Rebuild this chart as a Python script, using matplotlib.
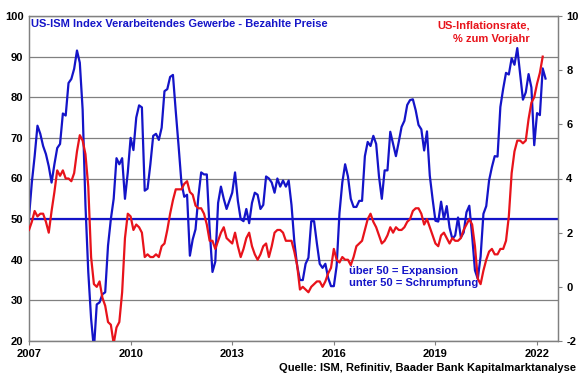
import matplotlib
matplotlib.use("Agg")
import matplotlib.pyplot as plt
import numpy as np

plt.rcParams['font.family'] = ['Liberation Sans', 'DejaVu Sans']

# ISM manufacturing prices paid, monthly from Jan 2007 to Apr 2022
ism_prices = [
    50.5, 59.0, 65.5, 73.0, 71.0, 68.0, 66.0, 63.0, 59.0, 63.5, 67.5, 68.5,   # 2007
    76.0, 75.5, 83.5, 84.5, 87.0, 91.5, 88.5, 77.0, 53.5, 37.0, 25.5, 18.0,   # 2008
    29.0, 29.5, 31.5, 32.0, 43.5, 50.0, 55.0, 65.0, 63.5, 65.0, 55.0, 61.5,   # 2009
    70.0, 67.0, 75.0, 78.0, 77.5, 57.0, 57.5, 63.5, 70.5, 71.0, 69.5, 72.5,   # 2010
    81.5, 82.0, 85.0, 85.5, 76.5, 68.0, 59.0, 55.5, 56.0, 41.0, 45.0, 47.5,   # 2011
    55.5, 61.5, 61.0, 61.0, 47.5, 37.0, 39.5, 54.0, 58.0, 55.0, 52.5, 54.5,   # 2012
    56.5, 61.5, 54.5, 50.0, 49.5, 52.5, 49.0, 54.0, 56.5, 56.0, 52.5, 53.5,   # 2013
    60.5, 60.0, 59.0, 56.5, 60.0, 58.0, 59.5, 58.0, 59.5, 53.5, 44.5, 38.5,   # 2014
    35.0, 35.0, 39.0, 40.5, 49.5, 49.5, 44.0, 39.0, 38.0, 39.0, 35.5, 33.5,   # 2015
    33.5, 38.5, 51.5, 59.0, 63.5, 60.5, 55.0, 53.0, 53.0, 54.5, 54.5, 65.5,   # 2016
    69.0, 68.0, 70.5, 68.5, 60.5, 55.0, 62.0, 62.0, 71.5, 68.5, 65.5, 69.0,   # 2017
    72.7, 74.2, 78.1, 79.3, 79.5, 76.8, 73.2, 72.1, 66.9, 71.6, 60.7, 54.9,   # 2018
    49.6, 49.4, 54.3, 50.0, 53.2, 47.9, 45.1, 46.0, 50.4, 45.5, 46.7, 51.7,   # 2019
    53.3, 45.9, 37.4, 35.3, 40.8, 51.3, 53.2, 59.5, 62.8, 65.5, 65.4, 77.6,   # 2020
    82.1, 86.0, 85.6, 89.6, 88.0, 92.1, 85.7, 79.4, 81.2, 85.7, 82.4, 68.2,   # 2021
    76.1, 75.6, 87.1, 84.6,                                                   # 2022
]

# US CPI inflation, % y/y, monthly from Jan 2007 to Mar 2022
cpi_yoy = [
    2.1, 2.4, 2.8, 2.6, 2.7, 2.7, 2.4, 2.0, 2.8, 3.5, 4.3, 4.1,   # 2007
    4.3, 4.0, 4.0, 3.9, 4.2, 5.0, 5.6, 5.4, 4.9, 3.7, 1.1, 0.1,   # 2008
    0.0, 0.2, -0.4, -0.7, -1.3, -1.4, -2.1, -1.5, -1.3, -0.2, 1.8, 2.7,  # 2009
    2.6, 2.1, 2.3, 2.2, 2.0, 1.1, 1.2, 1.1, 1.1, 1.2, 1.1, 1.5,   # 2010
    1.6, 2.1, 2.7, 3.2, 3.6, 3.6, 3.6, 3.8, 3.9, 3.5, 3.4, 3.0,   # 2011
    2.9, 2.9, 2.7, 2.3, 1.7, 1.7, 1.4, 1.7, 2.0, 2.2, 1.8, 1.7,   # 2012
    1.6, 2.0, 1.5, 1.1, 1.4, 1.8, 2.0, 1.5, 1.2, 1.0, 1.2, 1.5,   # 2013
    1.6, 1.1, 1.5, 2.0, 2.1, 2.1, 2.0, 1.7, 1.7, 1.7, 1.3, 0.8,   # 2014
    -0.1, 0.0, -0.1, -0.2, 0.0, 0.1, 0.2, 0.2, 0.0, 0.2, 0.5, 0.7,  # 2015
    1.4, 1.0, 0.9, 1.1, 1.0, 1.0, 0.8, 1.1, 1.5, 1.6, 1.7, 2.1,   # 2016
    2.5, 2.7, 2.4, 2.2, 1.9, 1.6, 1.7, 1.9, 2.2, 2.0, 2.2, 2.1,   # 2017
    2.1, 2.2, 2.4, 2.5, 2.8, 2.9, 2.9, 2.7, 2.3, 2.5, 2.2, 1.9,   # 2018
    1.6, 1.5, 1.9, 2.0, 1.8, 1.6, 1.8, 1.7, 1.7, 1.8, 2.1, 2.3,   # 2019
    2.5, 2.3, 1.5, 0.3, 0.1, 0.6, 1.0, 1.3, 1.4, 1.2, 1.2, 1.4,   # 2020
    1.4, 1.7, 2.6, 4.2, 5.0, 5.4, 5.4, 5.3, 5.4, 6.2, 6.8, 7.0,   # 2021
    7.5, 7.9, 8.5,                                                # 2022
]

start_year = 2007
x_years = [2007, 2010, 2013, 2016, 2019, 2022]
left_ticks = [20, 30, 40, 50, 60, 70, 80, 90, 100]
right_ticks = [-2, 0, 2, 4, 6, 8, 10]

BLUE = '#1414c8'
RED = '#e8131b'
GRID = '#808080'

x_ism = start_year + np.arange(len(ism_prices)) / 12.0
x_cpi = start_year + np.arange(len(cpi_yoy)) / 12.0

fig = plt.figure(figsize=(5.8, 3.75), dpi=100)
ax = fig.add_axes([29 / 580, 1 - 341 / 375, (558 - 29) / 580, (341 - 16) / 375])
ax2 = ax.twinx()

ax.set_xlim(2007, 2007 + 529 / 33.87)
ax.set_ylim(20, 100)
ax2.set_ylim(-2, 10)

ax.set_yticks(left_ticks)
ax.set_yticklabels([str(t) for t in left_ticks], fontsize=8, fontweight='bold')
ax.yaxis.grid(True, color=GRID, lw=0.9)
ax.set_axisbelow(True)
ax.tick_params(axis='y', length=0, pad=4)

ax.set_xticks(x_years)
ax.set_xticklabels([str(y) for y in x_years], fontsize=8, fontweight='bold')
ax.tick_params(axis='x', length=3, color=GRID, pad=3)

ax2.set_yticks(right_ticks)
ax2.set_yticklabels([str(t) for t in right_ticks], fontsize=8, fontweight='bold')
ax2.tick_params(axis='y', length=3, color=GRID, pad=3)

for a in (ax, ax2):
    for s in a.spines.values():
        s.set_color(GRID)
        s.set_linewidth(0.9)

ax.axhline(50, color=BLUE, lw=1.6, zorder=2)
ax.plot(x_ism, ism_prices, color=BLUE, lw=1.6, zorder=3, clip_on=True)
ax2.plot(x_cpi, cpi_yoy, color=RED, lw=1.6, zorder=3, clip_on=True)

fig.text(31 / 580, 1 - 24 / 375, 'US-ISM Index Verarbeitendes Gewerbe - Bezahlte Preise',
         color=BLUE, fontsize=8, fontweight='bold', ha='left', va='center')
fig.text(530 / 580, 1 - 25 / 375, 'US-Inflationsrate,', color=RED, fontsize=8,
         fontweight='bold', ha='right', va='center')
fig.text(530 / 580, 1 - 39 / 375, '% zum Vorjahr', color=RED, fontsize=8,
         fontweight='bold', ha='right', va='center')
fig.text(349 / 580, 1 - 271 / 375, 'über 50 = Expansion', color=BLUE, fontsize=8,
         fontweight='bold', ha='left', va='center')
fig.text(349 / 580, 1 - 283 / 375, 'unter 50 = Schrumpfung', color=BLUE, fontsize=8,
         fontweight='bold', ha='left', va='center')
fig.text(576 / 580, 1 - 368 / 375, 'Quelle: ISM, Refinitiv, Baader Bank Kapitalmarktanalyse',
         color='black', fontsize=8, fontweight='bold', ha='right', va='center')

fig.savefig('out.png', dpi=100)
